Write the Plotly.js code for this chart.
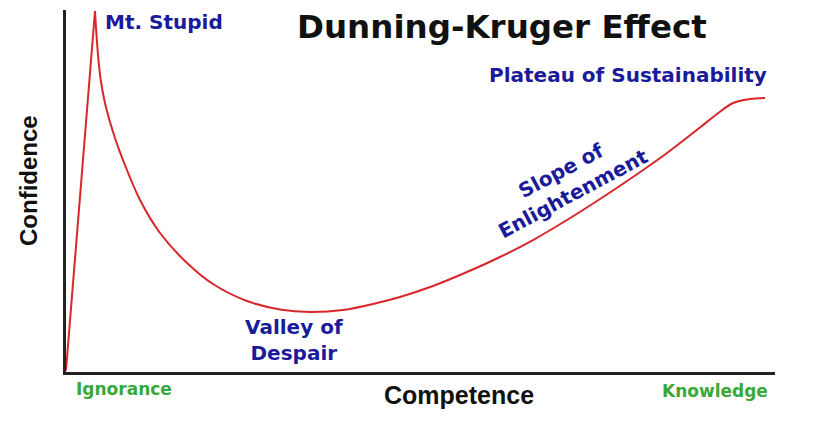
<!DOCTYPE html>
<html>
<head>
<meta charset="utf-8">
<script src="https://cdn.plot.ly/plotly-3.0.1.min.js"></script>
<style>html,body{margin:0;padding:0;background:#fff;}#chart{width:816px;height:426px;}</style>
</head>
<body>
<div id="chart"></div>
<script>
// Rise to Mt. Stupid
const riseX = [0, 4.09];
const riseY = [0.5, 99.72];
// Descent, valley, slope and plateau
const curveX = [4.09, 4.30, 4.58, 4.94, 5.50, 6.21, 7.05, 8.04, 10.44, 13.26, 17.07, 20.73, 25.53, 30.18, 34.41, 39.07, 43.86, 47.11, 51.76, 56.56, 61.21, 65.87, 70.66, 75.32, 79.97, 84.77, 89.42, 91.82, 94.08, 96.47, 98.59];
const curveY = [99.72, 93.09, 86.19, 80.11, 74.31, 69.06, 63.81, 58.56, 47.51, 38.40, 30.11, 24.31, 19.61, 17.27, 16.57, 17.13, 19.06, 20.72, 23.76, 27.62, 31.77, 36.46, 41.99, 47.79, 53.87, 60.50, 67.54, 71.27, 74.31, 75.41, 75.69];

const chartTitle = 'Dunning-Kruger Effect';
const xTitle = 'Competence';
const yTitle = 'Confidence';
const stageLabels = ['Mt. Stupid', 'Valley of<br>Despair', 'Slope of<br>Enlightenment', 'Plateau of Sustainability'];
const axisEndLabels = ['Ignorance', 'Knowledge'];

const red = '#d9262a';
const blue = '#1a1a9a';
const green = '#38a838';
const verd = {family: 'DejaVu Sans, Verdana, sans-serif', weight: 'bold'};

const traces = [
  {x: riseX, y: riseY, mode: 'lines', line: {color: red, width: 2}, hoverinfo: 'skip'},
  {x: curveX, y: curveY, mode: 'lines', line: {color: red, width: 2, shape: 'spline', smoothing: 1}, hoverinfo: 'skip'}
];

const ann = [
  {x: 5.22, y: 96.7, xref: 'x', yref: 'y', text: stageLabels[0], xanchor: 'left', yanchor: 'middle', showarrow: false, font: Object.assign({size: 20, color: blue}, verd)},
  {x: 32.2, y: 8.8, xref: 'x', yref: 'y', text: stageLabels[1], xanchor: 'center', yanchor: 'middle', showarrow: false, font: Object.assign({size: 20, color: blue}, verd)},
  {x: 70.7, y: 52.5, xref: 'x', yref: 'y', text: stageLabels[2], xanchor: 'center', yanchor: 'middle', textangle: -28, showarrow: false, font: Object.assign({size: 20, color: blue}, verd)},
  {x: 79.3, y: 82.0, xref: 'x', yref: 'y', text: stageLabels[3], xanchor: 'center', yanchor: 'middle', showarrow: false, font: Object.assign({size: 20, color: blue}, verd)},
  {x: 0.0818, y: -0.047, xref: 'paper', yref: 'paper', text: axisEndLabels[0], xanchor: 'center', yanchor: 'middle', showarrow: false, font: Object.assign({size: 17, color: green}, verd)},
  {x: 0.915, y: -0.0525, xref: 'paper', yref: 'paper', text: axisEndLabels[1], xanchor: 'center', yanchor: 'middle', showarrow: false, font: Object.assign({size: 17, color: green}, verd)},
  {x: 0.554, y: -0.0635, xref: 'paper', yref: 'paper', text: xTitle, xanchor: 'center', yanchor: 'middle', showarrow: false, font: {family: 'Liberation Sans, Arial, sans-serif', weight: 'bold', size: 25, color: '#111'}},
  {x: -0.052, y: 0.528, xref: 'paper', yref: 'paper', text: yTitle, textangle: -90, xanchor: 'center', yanchor: 'middle', showarrow: false, font: {family: 'Liberation Sans, Arial, sans-serif', weight: 'bold', size: 24, color: '#111'}},
  {x: 0.615, y: 0.953, xref: 'paper', yref: 'paper', text: chartTitle, xanchor: 'center', yanchor: 'middle', showarrow: false, font: Object.assign({size: 32.5, color: '#111'}, verd)}
];

const layout = {
  width: 816, height: 426,
  margin: {l: 66, r: 41, t: 10, b: 54},
  paper_bgcolor: '#fff', plot_bgcolor: '#fff',
  showlegend: false,
  xaxis: {range: [0, 100], showgrid: false, zeroline: false, showticklabels: false, ticks: '', showline: true, linecolor: '#222', linewidth: 3, fixedrange: true},
  yaxis: {range: [0, 100], showgrid: false, zeroline: false, showticklabels: false, ticks: '', showline: true, linecolor: '#222', linewidth: 3, fixedrange: true},
  annotations: ann
};

Plotly.newPlot('chart', traces, layout, {displayModeBar: false, staticPlot: true});
</script>
</body>
</html>
